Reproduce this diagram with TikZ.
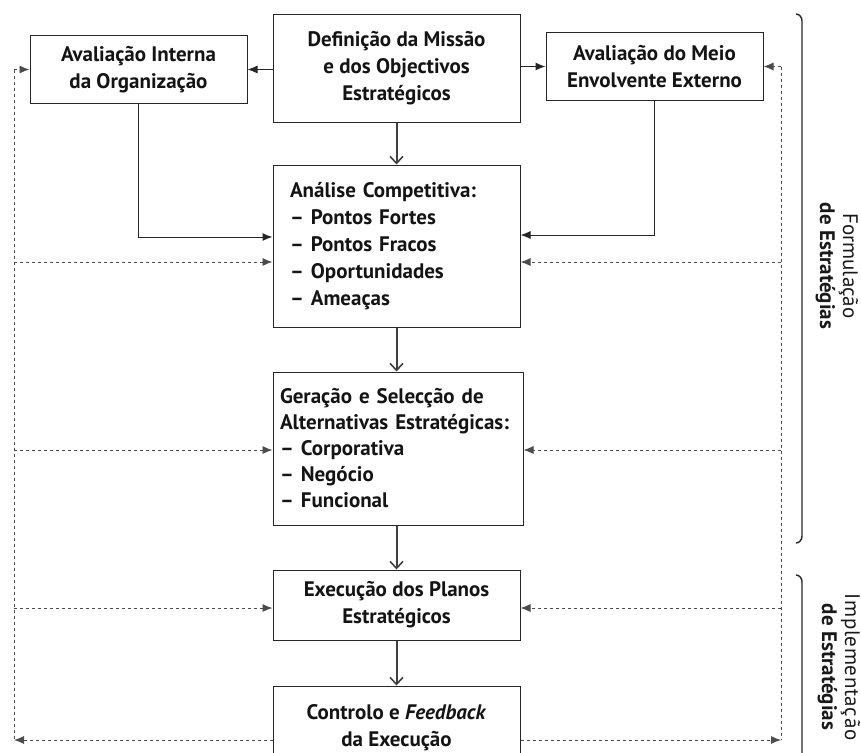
\documentclass[tikz,border=0pt]{standalone}
\usepackage{fontspec}
\setmainfont{PT Sans}
\usetikzlibrary{arrows.meta}
\begin{document}
\begin{tikzpicture}[x=1pt,y=-1pt,
  box/.style={draw=black!85, line width=1pt, align=center, inner sep=0pt,
    font=\bfseries\fontsize{21}{27}\selectfont, text=black!92},
  link/.style={line width=1pt, black!85, -{Latex[length=10pt,width=8pt]}},
  fbline/.style={line width=0.9pt, black!70, dash pattern=on 3pt off 3pt},
  fb/.style={fbline, -{Latex[length=10pt,width=8pt]}},
  flow/.style={line width=2pt, black!75, -{Straight Barb[length=7pt,width=13pt,line width=1.6pt]}},
  brace/.style={line width=1.4pt, black!85},
  phase/.style={rotate=-90, align=center, inner sep=0pt,
    font=\fontsize{21}{23}\selectfont, text=black!90}
]
\useasboundingbox (0,0) rectangle (861,752);
\clip (0,0) rectangle (861,752);

% main chain of boxes
\node[box, minimum width=247pt, minimum height=107pt] (miss) at (396.5,68.5)
  {Definição da Missão\\e dos Objectivos\\Estratégicos};
\node[box, minimum width=217pt, minimum height=67pt] (intern) at (138.5,69.5)
  {Avaliação Interna\\da Organização};
\node[box, minimum width=217pt, minimum height=67pt] (extern) at (654.5,66.5)
  {Avaliação do Meio\\Envolvente Externo};
\node[box, minimum width=247pt, minimum height=162pt, text width=213pt, align=left] (swot) at (396.5,246)
  {Análise Competitiva:\\– Pontos Fortes\\– Pontos Fracos\\– Oportunidades\\– Ameaças};
\node[box, minimum width=250pt, minimum height=153pt, text width=236pt, align=left,
  font=\bfseries\fontsize{21}{26}\selectfont] (alt) at (398,448.5)
  {Geração e Selecção de\\Alternativas Estratégicas:\\– Corporativa\\– Negócio\\– Funcional};
\node[box, minimum width=247pt, minimum height=70pt] (exec) at (396.5,605)
  {Execução dos Planos\\Estratégicos};
\node[box, minimum width=247pt, minimum height=84pt] (ctrl) at (396.5,728)
  {Controlo e \textit{Feedback}\\da Execução};

% downward flow
\draw[flow] (miss.south) -- (swot.north);
\draw[flow] (swot.south) -- (alt.north -| swot.south);
\draw[flow] (alt.south -| swot.south) -- (exec.north);
\draw[flow] (exec.south) -- (ctrl.north);

% mission to the two assessments
\draw[link] (miss.west |- intern.east) -- (intern.east);
\draw[link] (miss.east |- extern.west) -- (extern.west);

% assessments feeding the competitive analysis
\coordinate (lj) at (138.5,237);
\coordinate (rj) at (654.5,235);
\draw[link] (intern.south) |- (swot.west |- lj);
\draw[link] (extern.south) |- (swot.east |- rj);

% feedback loops
\coordinate (lt) at (14,69.5);
\coordinate (lb) at (14,740);
\coordinate (rt) at (781,66.5);
\coordinate (rb) at (781,740);
\coordinate (y1) at (0,262);
\coordinate (y2) at (0,450);
\coordinate (y3) at (0,608);
\draw[fbline] (lt) -- (lb);
\draw[fbline] (rt) -- (rb);
\draw[fb] (lt) -- (intern.west);
\draw[fb] (rt) -- (extern.east);
\draw[fb] (lt |- y1) -- (swot.west |- y1);
\draw[fb] (lt |- y2) -- (alt.west |- y2);
\draw[fb] (lt |- y3) -- (exec.west |- y3);
\draw[fb] (rt |- y1) -- (swot.east |- y1);
\draw[fb] (rt |- y2) -- (alt.east |- y2);
\draw[fb] (rt |- y3) -- (exec.east |- y3);
\draw[fb] (ctrl.west |- lb) -- (lb);
\draw[fb] (ctrl.east |- rb) -- (rb);

% phase brackets
\draw[brace] (796,14) to[out=0,in=90] (802,21) -- (802,536) to[out=-90,in=0] (796,543);
\draw[brace] (796,575) to[out=0,in=90] (802,582) -- (802,770);
\node[phase] (form) at (837,266) {Formulação\\\textbf{de Estratégias}};
\node[phase] (impl) at (839,667)
  {{\addfontfeature{LetterSpace=3}Implementação}\\\textbf{de Estratégias}};
\end{tikzpicture}
\end{document}
